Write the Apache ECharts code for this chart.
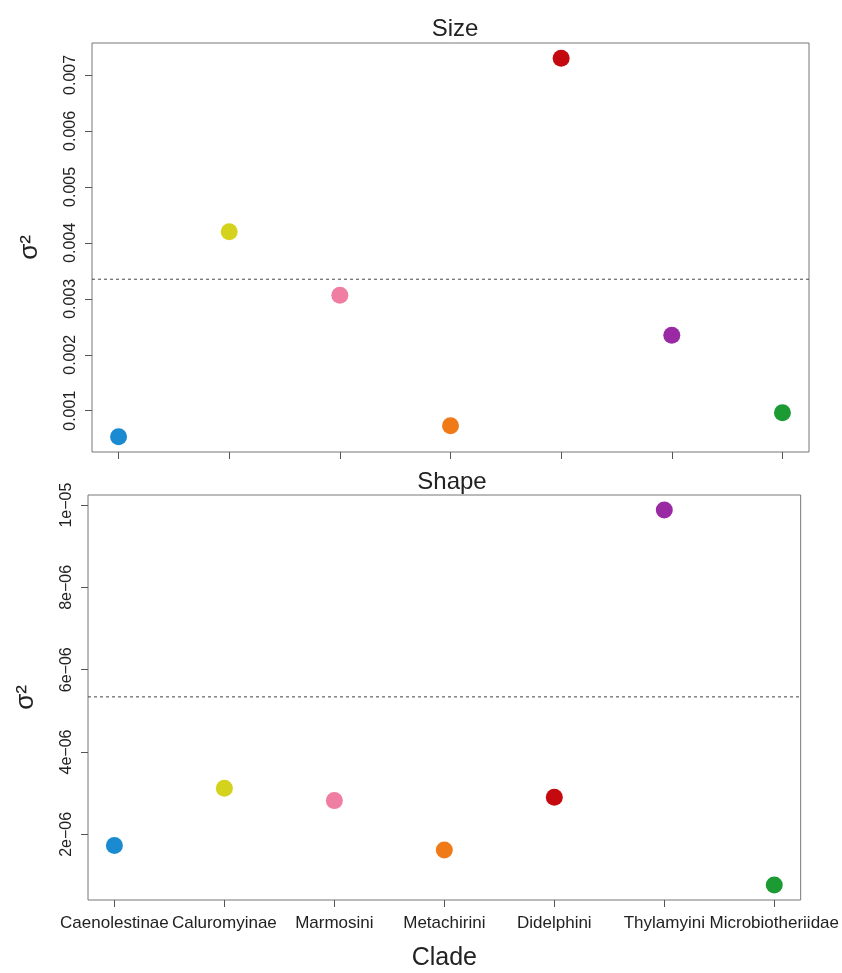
<!DOCTYPE html>
<html>
<head>
<meta charset="utf-8">
<title>Size / Shape rates by clade</title>
<script src="https://cdn.jsdelivr.net/npm/echarts@6/dist/echarts.min.js"></script>
<style>
    html, body { margin: 0; padding: 0; background: #fff; }
    #rates { width: 842px; height: 973px; }
</style>
</head>
<body>
<div id="rates"></div>
<script>
var clades = ['Caenolestinae', 'Caluromyinae', 'Marmosini', 'Metachirini', 'Didelphini', 'Thylamyini', 'Microbiotheriidae'];
var sizeRates = [0.000533, 0.004196, 0.003065, 0.00073, 0.0073, 0.002347, 0.000964];
var shapeRates = [1.73e-6, 3.12e-6, 2.82e-6, 1.62e-6, 2.9e-6, 9.88e-6, 0.77e-6];
var sizeOverall = 0.00335;
var shapeOverall = 5.34e-6;
var sizeTicks = [0.001, 0.002, 0.003, 0.004, 0.005, 0.006, 0.007];
var sizeTickLabels = ['0.001', '0.002', '0.003', '0.004', '0.005', '0.006', '0.007'];
var shapeTicks = [2e-6, 4e-6, 6e-6, 8e-6, 1e-5];
var shapeTickLabels = ['2e\u221206', '4e\u221206', '6e\u221206', '8e\u221206', '1e\u221205'];

var cladeColors = ['#1a8bd0', '#d4d21c', '#f07ea3', '#f07a18', '#c50a0f', '#9a2aa3', '#1c9a34'];
var font = 'Liberation Sans, Arial, sans-serif';

// R-style axis range: data range padded by 4% on each side
function pad(lo, hi) {
    var d = (hi - lo) * 0.04;
    return [lo - d, hi + d];
}

var xr = pad(1, clades.length);

function points(values) {
    return values.map(function (v, i) {
        return { value: [i + 1, v], itemStyle: { color: cladeColors[i], opacity: 1 } };
    });
}

function xAxisFor(gridIndex, showLabels) {
    return {
        gridIndex: gridIndex,
        type: 'value',
        min: xr[0],
        max: xr[1],
        splitLine: { show: false },
        axisLine: { show: false },
        axisTick: {
            show: true, inside: false, length: 7,
            customValues: [1, 2, 3, 4, 5, 6, 7],
            lineStyle: { color: '#555', width: 1 }
        },
        axisLabel: {
            show: showLabels,
            customValues: [1, 2, 3, 4, 5, 6, 7],
            formatter: function (v) { return clades[Math.round(v) - 1]; },
            color: '#222', fontFamily: font, fontSize: 17, margin: 15
        },
        name: showLabels ? 'Clade' : '',
        nameLocation: 'middle',
        nameGap: 46,
        nameTextStyle: { color: '#222', fontFamily: font, fontSize: 25 }
    };
}

function yAxisFor(gridIndex, values, ticks, labels) {
    var yr = pad(Math.min.apply(null, values), Math.max.apply(null, values));
    return {
        gridIndex: gridIndex,
        type: 'value',
        min: yr[0],
        max: yr[1],
        splitLine: { show: false },
        axisLine: { show: false },
        axisTick: {
            show: true, inside: false, length: 7,
            customValues: ticks,
            lineStyle: { color: '#555', width: 1 }
        },
        axisLabel: {
            customValues: ticks,
            rotate: 90,
            formatter: function (v) {
                for (var k = 0; k < ticks.length; k++) {
                    if (Math.abs(ticks[k] - v) < ticks[0] * 1e-6) return labels[k];
                }
                return '';
            },
            color: '#222', fontFamily: font, fontSize: 16, margin: 13
        },
        name: '\u03c3\u00b2',
        nameLocation: 'middle',
        nameRotate: 90,
        nameGap: 49,
        nameTextStyle: { color: '#222', fontFamily: font, fontSize: 26 }
    };
}

// dashed reference line across the whole panel
function overallLine(name, idx, value) {
    return {
        name: name,
        type: 'line',
        xAxisIndex: idx,
        yAxisIndex: idx,
        silent: true,
        symbol: 'none',
        data: [[xr[0], value], [xr[1], value]],
        lineStyle: { type: [3, 3], color: '#444', width: 1 },
        z: 1
    };
}

var myChart = echarts.init(document.getElementById('rates'));

option = {
    backgroundColor: '#fff',
    animation: false,
    title: [
        { text: 'Size', left: 450, top: 12, textAlign: 'center',
          textStyle: { color: '#222', fontFamily: font, fontSize: 24, fontWeight: 'normal' } },
        { text: 'Shape', left: 447, top: 465, textAlign: 'center',
          textStyle: { color: '#222', fontFamily: font, fontSize: 24, fontWeight: 'normal' } }
    ],
    grid: [
        { left: 92, top: 43, width: 717, height: 409, show: true, borderColor: '#777', borderWidth: 1 },
        { left: 88, top: 495, width: 717, height: 405, show: true, borderColor: '#777', borderWidth: 1 }
    ],
    xAxis: [xAxisFor(0, false), xAxisFor(1, true)],
    yAxis: [
        yAxisFor(0, sizeRates, sizeTicks, sizeTickLabels),
        yAxisFor(1, shapeRates, shapeTicks, shapeTickLabels)
    ],
    series: [
        overallLine('Size overall', 0, sizeOverall),
        overallLine('Shape overall', 1, shapeOverall),
        {
            name: 'Size',
            type: 'scatter',
            xAxisIndex: 0,
            yAxisIndex: 0,
            symbolSize: 17,
            data: points(sizeRates),
            z: 3
        },
        {
            name: 'Shape',
            type: 'scatter',
            xAxisIndex: 1,
            yAxisIndex: 1,
            symbolSize: 17,
            data: points(shapeRates),
            z: 3
        }
    ]
};

myChart.setOption(option);
</script>
</body>
</html>
